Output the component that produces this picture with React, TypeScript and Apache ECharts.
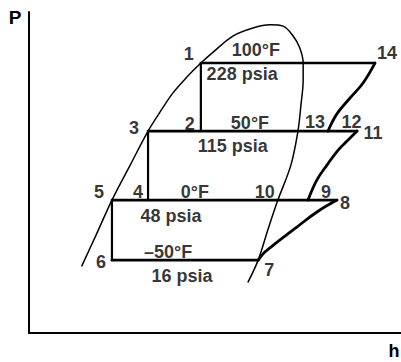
import { useEffect, useRef } from "react";
import * as echarts from "echarts";

// Schematic pressure–enthalpy diagram of a three-stage cascade cycle.
// Both axes run 0–100 in schematic units (no scale is printed).

// State points of the cycle
const stateIds = ["1", "2", "3", "4", "5", "6", "7", "8", "9", "10", "11", "12", "13", "14"];
const stateH = [46.2, 46.2, 32.0, 32.0, 22.3, 22.3, 61.6, 82.8, 75.0, 66.9, 88.2, 84.8, 80.4, 93.0];
const stateP = [84.1, 62.9, 62.9, 41.4, 41.4, 22.7, 22.7, 41.4, 41.4, 41.4, 62.9, 62.9, 62.9, 84.1];

// Saturation dome (liquid line up to the critical region, then vapour line down)
const domeH = [14.2, 18.3, 22.3, 27.2, 32.0, 35.2, 38.7, 42.5, 46.2, 49.5, 54.8, 60.2, 64.8,
  68.3, 71.0, 72.8, 73.7, 73.7, 73.1, 72.3, 70.4, 66.9, 64.2, 61.6, 58.9];
const domeP = [20.9, 31.2, 41.4, 52.3, 62.9, 68.8, 74.8, 79.8, 84.1, 87.5, 92.5, 95.0, 96.0,
  95.6, 92.5, 88.8, 84.1, 78.8, 71.0, 62.9, 52.3, 41.4, 32.1, 22.7, 15.9];

// Compression paths (superheated region)
const comp14to13H = [93.0, 89.8, 86.3, 83.1, 81.5, 80.4];
const comp14to13P = [84.1, 77.9, 73.2, 68.8, 65.7, 62.9];
const comp11to9H = [88.2, 85.5, 83.1, 80.1, 77.4, 75.0];
const comp11to9P = [62.9, 59.8, 57.0, 52.3, 47.7, 41.4];
const comp8to7H = [82.8, 77.4, 72.0, 66.7, 63.4, 61.6];
const comp8to7P = [41.4, 37.7, 33.0, 28.3, 25.2, 22.7];

// Constant-pressure levels
const levelTemps = ["100°F", "50°F", "0°F", "–50°F"];
const levelPressures = ["228 psia", "115 psia", "48 psia", "16 psia"];
const levelFrom = ["1", "3", "5", "6"];
const levelTo = ["14", "11", "8", "7"];

// Throttling verticals
const dropFrom = ["1", "3", "5"];
const dropTo = ["2", "4", "6"];

// Label placement (pixel offsets from the state point / schematic h of level captions)
const stateLabelOffset: Record<string, [number, number]> = {
  "1": [-12, -9], "2": [-11, -7], "3": [-14, -3], "4": [-10, -8], "5": [-13, -8],
  "6": [-11, 2], "7": [11, 10], "8": [8, 3], "9": [18, -8], "10": [-13, -8],
  "11": [16, 2], "12": [7, -9], "13": [-13, -9], "14": [12, -10],
};
const tempLabelH = [61.0, 59.4, 44.6, 37.4];
const tempLabelDy = [-13, -8, -8, -8];
const pressLabelH = [57.3, 54.8, 38.2, 41.1];
const pressLabelDy = [11, 15, 16, 16];

const FONT = "'Liberation Sans', Arial, Helvetica, sans-serif";

function pt(id: string): [number, number] {
  const i = stateIds.indexOf(id);
  return [stateH[i], stateP[i]];
}

function zip(h: number[], p: number[]): [number, number][] {
  return h.map((v, i) => [v, p[i]]);
}

function lineSeries(data: [number, number][], width: number, smooth: number | boolean = false) {
  return {
    type: "line",
    data,
    smooth,
    showSymbol: false,
    symbol: "none",
    silent: true,
    lineStyle: { color: "#000", width, cap: "round", join: "round" },
  };
}

export default function App() {
  const ref = useRef<HTMLDivElement>(null);

  useEffect(() => {
    if (!ref.current) return;
    const chart = echarts.init(ref.current, undefined, { renderer: "svg" });

    const labelData: any[] = [];
    const labelShift: [number, number][] = [];

    stateIds.forEach((id) => {
      labelData.push({ value: pt(id), name: id });
      labelShift.push(stateLabelOffset[id]);
    });
    levelTemps.forEach((t, i) => {
      const p = pt(levelFrom[i])[1];
      labelData.push({ value: [tempLabelH[i], p], name: t });
      labelShift.push([0, tempLabelDy[i]]);
      labelData.push({ value: [pressLabelH[i], p], name: levelPressures[i] });
      labelShift.push([0, pressLabelDy[i]]);
    });

    const series: any[] = [
      lineSeries(zip(domeH, domeP), 1.5, 0.35),
      ...levelFrom.map((a, i) => lineSeries([pt(a), pt(levelTo[i])], 2.6)),
      ...dropFrom.map((a, i) => lineSeries([pt(a), pt(dropTo[i])], 2.2)),
      lineSeries(zip(comp14to13H, comp14to13P), 2.8, 0.4),
      lineSeries(zip(comp11to9H, comp11to9P), 2.8, 0.4),
      lineSeries(zip(comp8to7H, comp8to7P), 2.8, 0.4),
      {
        type: "scatter",
        symbolSize: 1,
        itemStyle: { color: "rgba(0,0,0,0)" },
        silent: true,
        data: labelData,
        label: {
          show: true,
          position: "inside",
          formatter: (p: any) => p.name,
          fontFamily: FONT,
          fontWeight: "bold",
          fontSize: 18,
          color: "#000",
          textBorderWidth: 0,
        },
        labelLayout: (params: any) => {
          const s = labelShift[params.dataIndex] || [0, 0];
          return { dx: s[0], dy: s[1], hideOverlap: false };
        },
      },
    ];

    chart.setOption({
      animation: false,
      backgroundColor: "#fff",
      grid: { left: 29, right: 0, top: 12, bottom: 29, containLabel: false },
      xAxis: {
        type: "value",
        min: 0,
        max: 100,
        axisLine: { show: true, onZero: false, lineStyle: { color: "#000", width: 2 } },
        axisTick: { show: false },
        axisLabel: { show: false },
        splitLine: { show: false },
      },
      yAxis: {
        type: "value",
        min: 0,
        max: 100,
        axisLine: { show: true, onZero: false, lineStyle: { color: "#000", width: 2 } },
        axisTick: { show: false },
        axisLabel: { show: false },
        splitLine: { show: false },
      },
      graphic: [
        {
          type: "text",
          x: 15,
          y: 17,
          style: {
            text: "P",
            font: `bold 19px ${FONT}`,
            fill: "#000",
            textAlign: "center",
            textVerticalAlign: "middle",
          },
        },
        {
          type: "text",
          x: 394,
          y: 351,
          style: {
            text: "h",
            font: `bold 18px ${FONT}`,
            fill: "#000",
            textAlign: "center",
            textVerticalAlign: "middle",
          },
        },
      ],
      series,
    });

    return () => chart.dispose();
  }, []);

  return (
    <div
      ref={ref}
      style={{ position: "fixed", left: 0, top: 0, width: 401, height: 362, background: "#fff" }}
    />
  );
}
